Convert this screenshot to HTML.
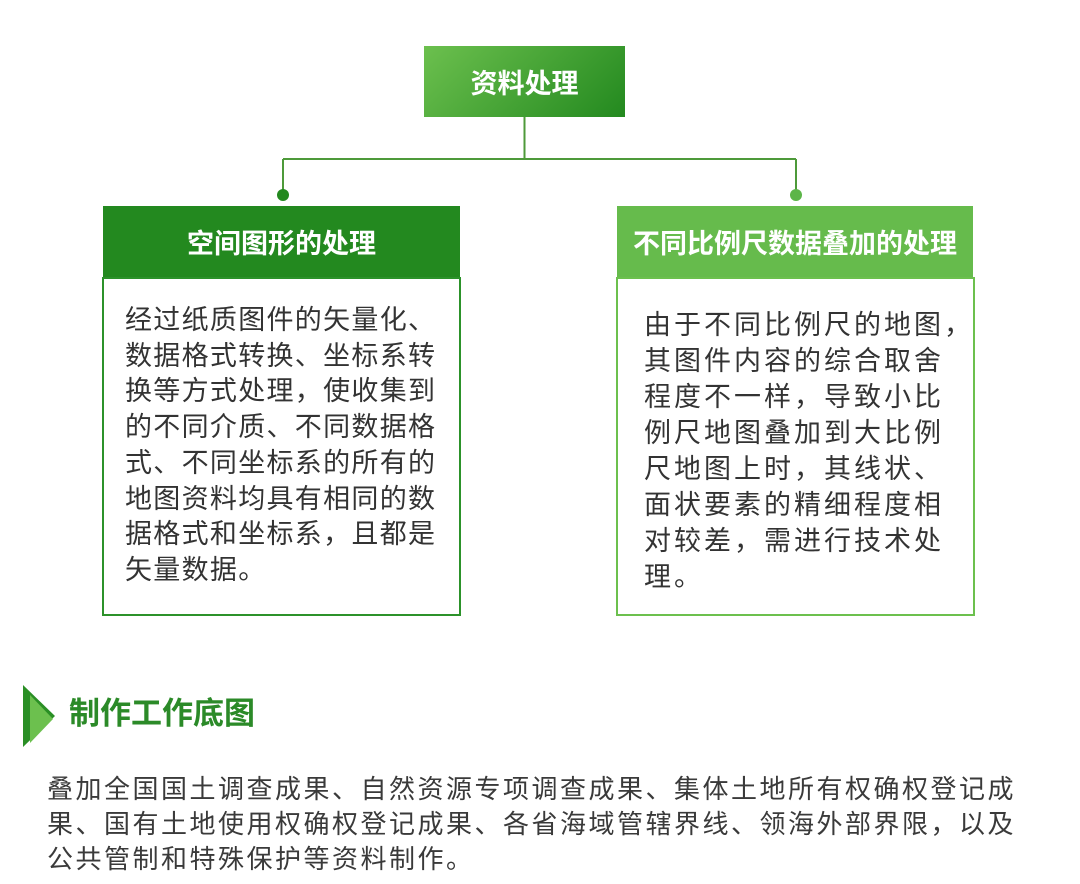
<!DOCTYPE html>
<html><head><meta charset="utf-8"><style>
body{margin:0;width:1080px;height:884px;background:#fff;position:relative;overflow:hidden;font-family:"Liberation Sans","Noto Sans CJK SC",sans-serif;}
.a{position:absolute;}
.hd{color:#fff;font-weight:bold;display:flex;align-items:center;justify-content:center;}
.t{white-space:nowrap;color:#333;}
</style></head><body>
<div class="a hd" style="left:424px;top:46px;width:201px;height:71px;background:linear-gradient(135deg,#6cc04e,#23891f);font-size:27px;">资料处理</div>
<svg class="a" style="left:0;top:0" width="1080" height="220">
<path d="M524.5 117 V159 M283 159 H796 M283 159 V195 M796 159 V195" stroke="#4e9a3a" stroke-width="2" fill="none"/>
<circle cx="283" cy="195" r="6" fill="#23891f"/><circle cx="796" cy="195" r="6" fill="#5cb548"/>
</svg>
<div class="a hd" style="left:103px;top:206px;width:357px;height:71px;background:#23891f;font-size:27px;">空间图形的处理</div>
<div class="a hd" style="left:617px;top:206px;width:356px;height:71px;background:#66bb4c;font-size:27px;">不同比例尺数据叠加的处理</div>
<div class="a" style="left:102px;top:277px;width:355px;height:335px;border:2px solid #2c922a;"></div>
<div class="a" style="left:616px;top:277px;width:355px;height:335px;border:2px solid #6cc04e;"></div>
<div class="a t" style="left:125px;top:303px;font-size:27px;line-height:35.7px;letter-spacing:1.3px;">经过纸质图件的矢量化、<br>数据格式转换、坐标系转<br>换等方式处理，使收集到<br>的不同介质、不同数据格<br>式、不同坐标系的所有的<br>地图资料均具有相同的数<br>据格式和坐标系，且都是<br>矢量数据。</div>
<div class="a t" style="left:644px;top:307px;font-size:27px;line-height:36px;letter-spacing:3px;">由于不同比例尺的地图，<br>其图件内容的综合取舍<br>程度不一样，导致小比<br>例尺地图叠加到大比例<br>尺地图上时，其线状、<br>面状要素的精细程度相<br>对较差，需进行技术处<br>理。</div>
<svg class="a" style="left:20px;top:683px" width="40" height="66">
<polygon points="3,2 35,33 3,64" fill="#2a8f25"/><polygon points="10,12 33,36 10,60" fill="#6cc04e"/>
</svg>
<div class="a" style="left:69px;top:695px;font-size:31px;font-weight:bold;color:#2b8a28;line-height:38px;">制作工作底图</div>
<div class="a t" style="left:47px;top:772px;font-size:26px;line-height:35px;letter-spacing:2.5px;color:#3a3a3a;">叠加全国国土调查成果、自然资源专项调查成果、集体土地所有权确权登记成<br>果、国有土地使用权确权登记成果、各省海域管辖界线、领海外部界限，以及<br>公共管制和特殊保护等资料制作。</div>
</body></html>
